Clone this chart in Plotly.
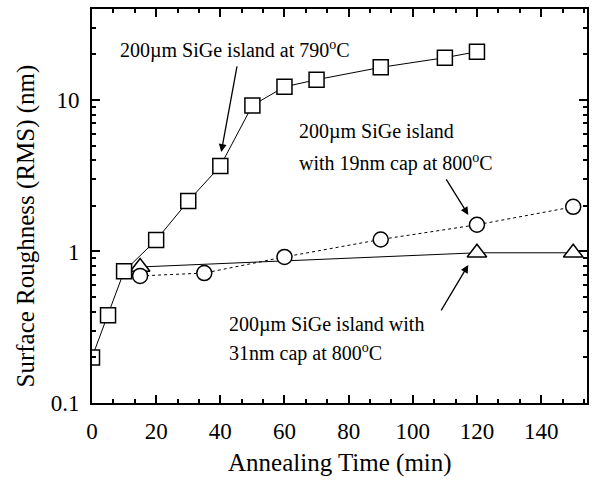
import plotly.graph_objects as go

# ---- data ----
sq_x = [0, 5, 10, 20, 30, 40, 50, 60, 70, 90, 110, 120]
sq_y = [0.20, 0.38, 0.74, 1.19, 2.15, 3.66, 9.2, 12.2, 13.6, 16.4, 19.0, 20.8]

ci_x = [15, 35, 60, 90, 120, 150]
ci_y = [0.69, 0.72, 0.92, 1.2, 1.50, 1.97]

tr_x = [15, 120, 150]
tr_y = [0.79, 0.98, 0.98]

x_ticks = [0, 20, 40, 60, 80, 100, 120, 140]
y_ticks = [0.1, 1, 10]
y_tick_text = ["0.1", "1", "10"]
y_minor = [v * d for d in (0.1, 1, 10) for v in range(2, 10)]

label_790 = "200µm SiGe island at 790<sup>o</sup>C"
label_19 = ["200µm SiGe island", "with 19nm cap at 800<sup>o</sup>C"]
label_31 = ["200µm SiGe island with", "31nm cap at 800<sup>o</sup>C"]

FONT = "Liberation Serif, Times New Roman, serif"

fig = go.Figure()
fig.add_trace(go.Scatter(
    x=tr_x, y=tr_y, mode="lines+markers",
    line=dict(color="black", width=1),
    marker=dict(symbol="triangle-up", size=17, color="white",
                line=dict(color="black", width=1.5)),
    showlegend=False))
fig.add_trace(go.Scatter(
    x=ci_x, y=ci_y, mode="lines+markers",
    line=dict(color="black", width=1, dash="3px,3px"),
    marker=dict(symbol="circle", size=15, color="white",
                line=dict(color="black", width=1.5)),
    showlegend=False))
fig.add_trace(go.Scatter(
    x=sq_x, y=sq_y, mode="lines+markers",
    line=dict(color="black", width=1),
    marker=dict(symbol="square", size=15, color="white",
                line=dict(color="black", width=1.5)),
    showlegend=False))

axis_common = dict(
    showline=True, linecolor="black", linewidth=2, mirror="ticks",
    ticks="inside", ticklen=8, tickwidth=2, tickcolor="black",
    showgrid=False, zeroline=False,
    tickfont=dict(family=FONT, size=23, color="black"),
)

fig.update_xaxes(range=[0, 154.3], tickvals=x_ticks,
                 minor=dict(dtick=20 / 3, ticks="inside", ticklen=4,
                            tickwidth=1.5, tickcolor="black", showgrid=False),
                 ticklabelstandoff=6,
                 **axis_common)
fig.update_yaxes(type="log", range=[-1, 1.6], tickvals=y_ticks,
                 ticktext=y_tick_text,
                 minor=dict(tickvals=y_minor, ticks="inside", ticklen=4,
                            tickwidth=1.5, tickcolor="black", showgrid=False),
                 ticklabelstandoff=6,
                 **axis_common)

ann_font = dict(family=FONT, size=20, color="black")
annotations = [
    dict(x=44.6, y=1.33, text=label_790, xanchor="center", yanchor="middle"),
    dict(x=63.9, y=0.789, text=label_19[0], xanchor="left", yanchor="middle"),
    dict(x=63.9, y=0.584, text=label_19[1], xanchor="left", yanchor="middle"),
    dict(x=42.1, y=-0.485, text=label_31[0], xanchor="left", yanchor="middle"),
    dict(x=42.1, y=-0.670, text=label_31[1], xanchor="left", yanchor="middle"),
]
for a in annotations:
    fig.add_annotation(xref="x", yref="y", showarrow=False, font=ann_font, **a)

arrows = [
    dict(x=40.3, y=0.657, ax=16, ay=-87),
    dict(x=117.3, y=0.241, ax=-23, ay=-37),
    dict(x=117.3, y=-0.089, ax=-28, ay=47),
]
for a in arrows:
    fig.add_annotation(xref="x", yref="y", text="", showarrow=True,
                       arrowhead=2, arrowsize=1.2, arrowwidth=1.3,
                       arrowcolor="black", standoff=0, startstandoff=0, **a)

# axis titles
fig.add_annotation(xref="paper", yref="paper", x=(341 - 92) / 497, y=0,
                   yshift=-60, text="Annealing Time (min)", showarrow=False,
                   xanchor="center", yanchor="middle",
                   font=dict(family=FONT, size=25, color="black"))
fig.add_annotation(xref="paper", yref="paper", x=0, xshift=-66,
                   y=(403 - 226.5) / 394, text="Surface Roughness (RMS) (nm)",
                   textangle=-90, showarrow=False, xanchor="center",
                   yanchor="middle",
                   font=dict(family=FONT, size=25, color="black"))

fig.update_layout(
    width=593, height=481,
    margin=dict(l=92, r=4, t=9, b=78),
    paper_bgcolor="white", plot_bgcolor="white",
    font=dict(family=FONT, color="black"),
)

fig.write_html("out.html")
